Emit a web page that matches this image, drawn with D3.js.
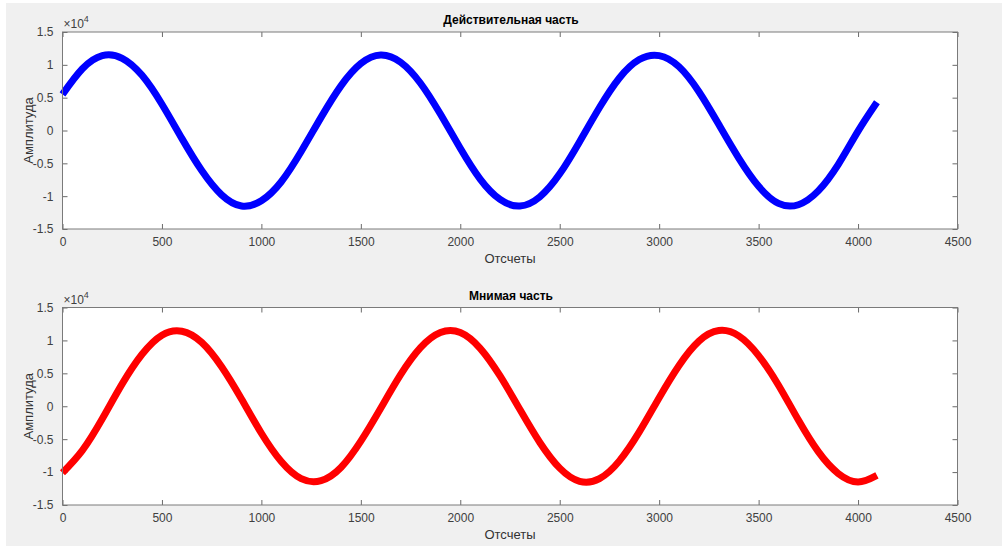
<!DOCTYPE html>
<html>
<head>
<meta charset="utf-8">
<script src="https://cdn.jsdelivr.net/npm/d3@7"></script>
<style>
    body { margin: 0; background: #ffffff; }
    svg { display: block; font-family: "Liberation Sans", Arial, sans-serif; }
</style>
</head>
<body>
<div id="chart"></div>
<script>
// Sample indices (x), every 100 samples
const samples = [0, 100, 200, 300, 400, 500, 600, 700, 800, 900,
    1000, 1100, 1200, 1300, 1400, 1500, 1600, 1700, 1800, 1900,
    2000, 2100, 2200, 2300, 2400, 2500, 2600, 2700, 2800, 2900,
    3000, 3100, 3200, 3300, 3400, 3500, 3600, 3700, 3800, 3900,
    4000, 4095];

// Real part, units of 1e4
const realPart = [0.55, 0.94, 1.14, 1.10, 0.84, 0.40, -0.12, -0.61, -0.98, -1.15,
    -1.07, -0.78, -0.32, 0.20, 0.68, 1.02, 1.15, 1.04, 0.72, 0.25,
    -0.27, -0.74, -1.05, -1.15, -1.01, -0.66, -0.17, 0.35, 0.80, 1.08,
    1.14, 0.97, 0.59, 0.09, -0.42, -0.85, -1.11, -1.13, -0.92, -0.52,
    -0.01, 0.43];

// Imaginary part, units of 1e4
const imagPart = [-1.01, -0.67, -0.19, 0.34, 0.79, 1.08, 1.14, 0.97, 0.60, 0.11,
    -0.41, -0.84, -1.10, -1.13, -0.93, -0.53, -0.03, 0.48, 0.89, 1.12,
    1.12, 0.88, 0.46, -0.05, -0.55, -0.94, -1.14, -1.10, -0.83, -0.39,
    0.13, 0.62, 0.99, 1.15, 1.07, 0.77, 0.32, -0.21, -0.69, -1.02,
    -1.15, -1.05];

const xTicks = [0, 500, 1000, 1500, 2000, 2500, 3000, 3500, 4000, 4500];
const yTicks = [-1.5, -1, -0.5, 0, 0.5, 1, 1.5];

const width = 1003, height = 547;

const svg = d3.select("#chart")
    .append("svg")
    .attr("width", width)
    .attr("height", height);

// Figure background
svg.append("rect")
    .attr("x", 6).attr("y", 3)
    .attr("width", 996).attr("height", 543)
    .attr("fill", "#f0f0f0");

const panels = [
    { title: "Действительная часть", values: realPart, color: "#0000ff", top: 32, bottom: 229 },
    { title: "Мнимая часть", values: imagPart, color: "#ff0000", top: 307.5, bottom: 505 }
];

const left = 62.5, right = 957.5;

// MATLAB style labels: plain hyphen for minus
const fmt = d => String(d);

panels.forEach(p => {
    const x = d3.scaleLinear().domain([0, 4500]).range([left, right]);
    const y = d3.scaleLinear().domain([-1.5, 1.5]).range([p.bottom, p.top]);

    const g = svg.append("g");

    g.append("rect")
        .attr("x", left).attr("y", p.top)
        .attr("width", right - left).attr("height", p.bottom - p.top)
        .attr("fill", "#ffffff");

    // Bottom and left axes with labels, ticks pointing inward
    const xAxis = d3.axisBottom(x).tickValues(xTicks).tickSizeInner(-5).tickSizeOuter(0).tickPadding(8)
        .tickFormat(fmt);
    const yAxis = d3.axisLeft(y).tickValues(yTicks).tickSizeInner(-5).tickSizeOuter(0).tickPadding(9)
        .tickFormat(fmt);

    g.append("g")
        .attr("transform", `translate(0, ${p.bottom})`)
        .call(xAxis);
    g.append("g")
        .attr("transform", `translate(${left}, 0)`)
        .call(yAxis);

    // Top and right mirror ticks
    g.append("g")
        .attr("transform", `translate(0, ${p.top})`)
        .call(d3.axisTop(x).tickValues(xTicks).tickSizeInner(-5).tickSizeOuter(0).tickFormat(""));
    g.append("g")
        .attr("transform", `translate(${right}, 0)`)
        .call(d3.axisRight(y).tickValues(yTicks).tickSizeInner(-5).tickSizeOuter(0).tickFormat(""));

    g.selectAll(".domain").remove();
    g.selectAll(".tick line").attr("stroke", "#6a6a6a");
    g.selectAll(".tick text")
        .attr("fill", "#404040")
        .style("font-size", "12px")
        .style("font-family", "'Liberation Sans', Arial, sans-serif");

    // Curve
    const line = d3.line()
        .x((d, i) => x(samples[i]))
        .y(d => y(d))
        .curve(d3.curveNatural);

    g.append("path")
        .datum(p.values)
        .attr("d", line)
        .attr("fill", "none")
        .attr("stroke", p.color)
        .attr("stroke-width", 7)
        .attr("stroke-linecap", "butt");

    // Axes box
    g.append("rect")
        .attr("x", left).attr("y", p.top)
        .attr("width", right - left).attr("height", p.bottom - p.top)
        .attr("fill", "none")
        .attr("stroke", "#7a7a7a")
        .attr("stroke-width", 1);

    // Exponent label
    const ex = g.append("text")
        .attr("x", left + 1).attr("y", p.top - 4)
        .attr("fill", "#404040")
        .style("font-size", "12px");
    ex.append("tspan").text("\u00d710");
    ex.append("tspan").attr("dy", -6).style("font-size", "9px").text("4");

    // Title
    g.append("text")
        .attr("x", (left + right) / 2 + 1)
        .attr("y", p.top - 8)
        .attr("text-anchor", "middle")
        .attr("font-weight", "bold")
        .attr("fill", "#000")
        .style("font-size", "12px")
        .text(p.title);

    // Axis labels
    g.append("text")
        .attr("x", (left + right) / 2)
        .attr("y", p.bottom + 34)
        .attr("text-anchor", "middle")
        .attr("fill", "#333")
        .style("font-size", "13px")
        .text("Отсчеты");

    g.append("text")
        .attr("transform", `translate(33, ${(p.top + p.bottom) / 2}) rotate(-90)`)
        .attr("text-anchor", "middle")
        .attr("fill", "#333")
        .style("font-size", "13px")
        .text("Амплитуда");
});
</script>
</body>
</html>
